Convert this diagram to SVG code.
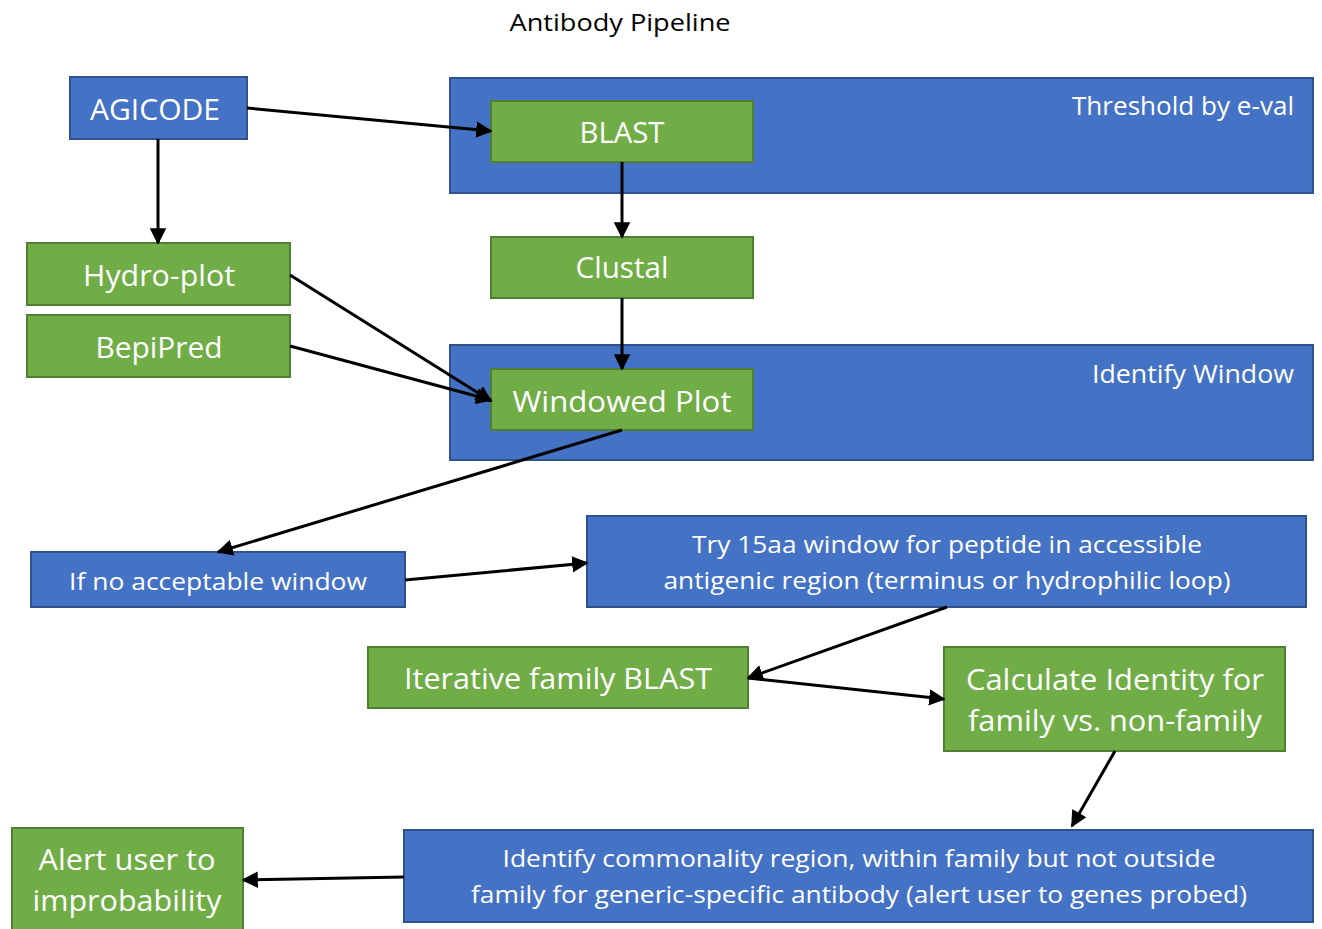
<svg xmlns="http://www.w3.org/2000/svg" width="1322" height="929" viewBox="0 0 1322 929">
<style>
.b{fill:#4472c4;stroke:#2f528f;stroke-width:2}
.g{fill:#70ad47;stroke:#507e32;stroke-width:2}
text{font-family:"Open Sans","Liberation Sans",sans-serif;fill:#fff;text-anchor:middle}
.t{fill:#000}
.r{text-anchor:end}
.c line{stroke:#000;stroke-width:3;marker-end:url(#ah)}
</style>
<defs>
<marker id="ah" viewBox="0 0 10 10" refX="9" refY="5" markerWidth="5.5" markerHeight="5.5" orient="auto" markerUnits="strokeWidth">
<path d="M0,0 L10,5 L0,10 z" fill="#000"/>
</marker>
</defs>
<rect width="1322" height="929" fill="#fff"/>
<text class="t" x="620" y="31" font-size="24" textLength="221" lengthAdjust="spacingAndGlyphs">Antibody Pipeline</text>
<g id="threshold">
<rect class="b" x="450" y="78" width="863" height="115"/>
<text class="r" x="1294" y="115" font-size="25" textLength="222" lengthAdjust="spacingAndGlyphs">Threshold by e-val</text>
</g>
<g id="identifywindow">
<rect class="b" x="450" y="345" width="863" height="115"/>
<text class="r" x="1294" y="383" font-size="25" textLength="202" lengthAdjust="spacingAndGlyphs">Identify Window</text>
</g>
<g id="agicode">
<rect class="b" x="70" y="77" width="177" height="62"/>
<text x="155" y="120" font-size="30" textLength="130" lengthAdjust="spacingAndGlyphs">AGICODE</text>
</g>
<g id="blast">
<rect class="g" x="491" y="101" width="262" height="61"/>
<text x="622" y="143" font-size="29" textLength="85" lengthAdjust="spacingAndGlyphs">BLAST</text>
</g>
<g id="clustal">
<rect class="g" x="491" y="237" width="262" height="61"/>
<text x="622" y="278" font-size="29" textLength="93" lengthAdjust="spacingAndGlyphs">Clustal</text>
</g>
<g id="windowed">
<rect class="g" x="491" y="369" width="262" height="61"/>
<text x="622" y="412" font-size="29" textLength="219" lengthAdjust="spacingAndGlyphs">Windowed Plot</text>
</g>
<g id="hydro">
<rect class="g" x="27" y="243" width="263" height="62"/>
<text x="159" y="286" font-size="29" textLength="152" lengthAdjust="spacingAndGlyphs">Hydro-plot</text>
</g>
<g id="bepipred">
<rect class="g" x="27" y="315" width="263" height="62"/>
<text x="159" y="358" font-size="29" textLength="127" lengthAdjust="spacingAndGlyphs">BepiPred</text>
</g>
<g id="noacceptable">
<rect class="b" x="31" y="552" width="374" height="55"/>
<text x="218" y="590" font-size="24" textLength="298" lengthAdjust="spacingAndGlyphs">If no acceptable window</text>
</g>
<g id="try15aa">
<rect class="b" x="587" y="516" width="719" height="91"/>
<text x="947" y="553" font-size="24" textLength="510" lengthAdjust="spacingAndGlyphs">Try 15aa window for peptide in accessible</text>
<text x="947" y="589" font-size="24" textLength="567" lengthAdjust="spacingAndGlyphs">antigenic region (terminus or hydrophilic loop)</text>
</g>
<g id="iterative">
<rect class="g" x="368" y="647" width="380" height="61"/>
<text x="558" y="689" font-size="29" textLength="308" lengthAdjust="spacingAndGlyphs">Iterative family BLAST</text>
</g>
<g id="calculate">
<rect class="g" x="944" y="647" width="341" height="104"/>
<text x="1115" y="690" font-size="29" textLength="298" lengthAdjust="spacingAndGlyphs">Calculate Identity for</text>
<text x="1115" y="731" font-size="29" textLength="294" lengthAdjust="spacingAndGlyphs">family vs. non-family</text>
</g>
<g id="commonality">
<rect class="b" x="404" y="830" width="909" height="92"/>
<text x="859" y="867" font-size="24" textLength="713" lengthAdjust="spacingAndGlyphs">Identify commonality region, within family but not outside</text>
<text x="859" y="903" font-size="24" textLength="776" lengthAdjust="spacingAndGlyphs">family for generic-specific antibody (alert user to genes probed)</text>
</g>
<g id="alert">
<rect class="g" x="12" y="828" width="231" height="110"/>
<text x="127" y="870" font-size="29" textLength="177" lengthAdjust="spacingAndGlyphs">Alert user to</text>
<text x="127" y="911" font-size="29" textLength="189" lengthAdjust="spacingAndGlyphs">improbability</text>
</g>
<g id="connectors" class="c">
<line x1="247" y1="108" x2="491" y2="131"/>
<line x1="158" y1="139" x2="158" y2="243"/>
<line x1="622" y1="162" x2="622" y2="237"/>
<line x1="622" y1="298" x2="622" y2="369"/>
<line x1="290" y1="275" x2="491" y2="401"/>
<line x1="290" y1="346" x2="491" y2="400"/>
<line x1="622" y1="430" x2="218" y2="552"/>
<line x1="405" y1="580" x2="587" y2="563"/>
<line x1="947" y1="607" x2="748" y2="678"/>
<line x1="748" y1="678" x2="944" y2="699"/>
<line x1="1115" y1="751" x2="1072" y2="826"/>
<line x1="404" y1="877" x2="243" y2="880"/>
</g>
</svg>
